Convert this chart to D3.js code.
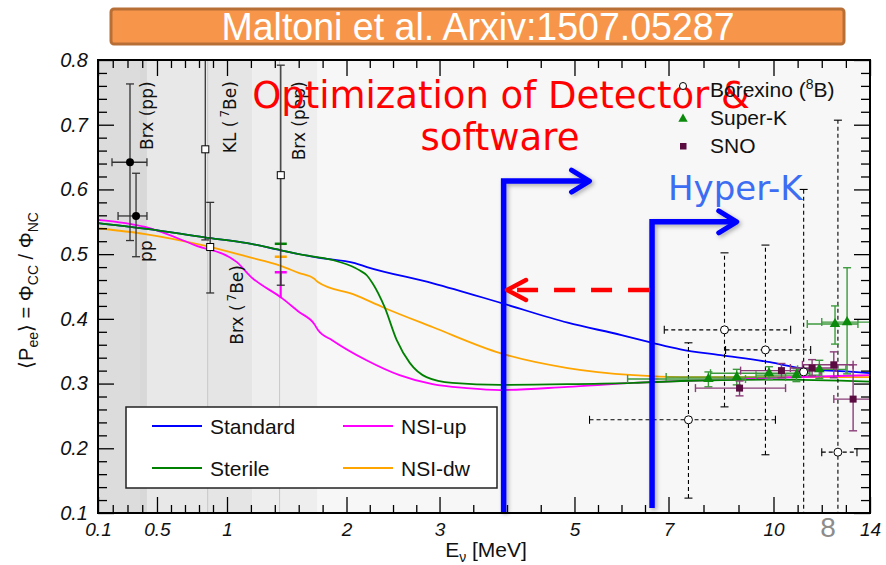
<!DOCTYPE html>
<html><head><meta charset="utf-8">
<script src="https://cdn.jsdelivr.net/npm/d3@7"></script>
<style>body{margin:0;background:#fff}</style>
</head><body><svg id="c" width="886" height="565"></svg>
<script>
// ---------------- data ----------------
const xKnotE = [0.1, 0.5, 1, 2, 3, 5, 7, 10, 14];
const xTickLabels = ["0.1", "0.5", "1", "2", "3", "5", "7", "10", "14"];
const xMinorTicks = [0.2,0.3,0.4,0.6,0.7,0.8,0.9,1.2,1.4,1.6,1.8,2.25,2.5,2.75,3.5,4,4.5,5.5,6,6.5,8,9,11,12,13];
const yMajorTicks = [0.1,0.2,0.3,0.4,0.5,0.6,0.7,0.8];
const yMinorTicks = d3.range(0.12, 0.8, 0.02).filter(v => Math.abs(Math.round(v*10) - v*10) > 0.05);

const standardE = [0.1,0.43,0.84,1.17,1.45,1.75,2.09,2.22,2.93,3.93,4.9,6.0,6.66,7.34,8.49,9.9,11.1,13.3,14];
const standardP = [0.548,0.539,0.526,0.517,0.506,0.495,0.486,0.480,0.455,0.424,0.394,0.375,0.363,0.353,0.344,0.333,0.324,0.318,0.316];
const sterileE = [0.1,0.43,0.84,1.17,1.45,1.6,1.88,2.09,2.14,2.22,2.28,2.41,2.54,2.68,2.86,3.19,3.9,4.9,6.26,7.34,10,14];
const sterileP = [0.548,0.539,0.526,0.517,0.506,0.500,0.491,0.479,0.475,0.467,0.455,0.418,0.367,0.332,0.310,0.301,0.298,0.299,0.301,0.304,0.306,0.303];
const nsiUpE = [0.1,0.42,0.77,1.08,1.2,1.46,1.6,1.73,1.76,1.88,2.215,2.57,2.925,3.4,3.9,4.9,6.26,7.34,10,14];
const nsiUpP = [0.553,0.542,0.514,0.488,0.465,0.432,0.411,0.392,0.383,0.367,0.336,0.313,0.299,0.293,0.290,0.295,0.301,0.304,0.309,0.313];
const nsiDwE = [0.1,0.42,0.84,1.17,1.45,1.6,1.73,1.76,2.09,2.39,2.93,3.9,4.9,6.26,7.34,10,14];
const nsiDwP = [0.540,0.531,0.513,0.496,0.482,0.471,0.462,0.457,0.437,0.418,0.387,0.347,0.324,0.313,0.310,0.310,0.310];

// low-energy measurements: [E, P, Elo, Ehi, Plo, Phi]
const ppPoints = [[0.317,0.642,0.195,0.432,0.521,0.763],[0.358,0.559,0.236,0.432,0.496,0.625]];
const openSquarePoints = [[0.845,0.662,null,null,0.522,0.90],[0.88,0.511,null,null,0.440,0.580],[1.45,0.622,null,null,0.452,0.792]];
// pep-line model predictions
const pepPredP = [0.516, 0.496, 0.472];
const pepPredE = 1.45;

// Borexino 8B, Super-K, SNO: [E, P, Elo, Ehi, Plo, Phi]
const borexino8B = [[7.57,0.244,5.32,10.08,0.123,0.363],[8.6,0.383,6.91,10.71,0.264,0.502],[9.77,0.352,8.63,11.54,0.190,0.514],[11.25,0.318,11.0,11.5,0.02,0.60],[12.67,0.194,12.0,13.46,0.02,0.707]];
const superK = [[8.14,0.307,6.13,9.2,0.295,0.318],[8.95,0.310,6.95,10.5,0.298,0.322],[9.87,0.316,8.2,11.5,0.306,0.326],[10.95,0.313,9.5,12.0,0.303,0.323],[11.9,0.322,11.0,13.0,0.308,0.336],[12.55,0.392,11.4,13.5,0.361,0.420],[13.05,0.395,12.0,14.2,0.315,0.479]];
const sno = [[9.03,0.293,7.77,10.5,0.281,0.304],[10.33,0.320,9.06,11.96,0.309,0.331],[11.6,0.324,10.7,12.6,0.312,0.337],[12.5,0.329,11.2,13.3,0.309,0.349],[13.3,0.276,12.5,14.2,0.227,0.329]];

// background energy bands
const bandE = [[0.1,0.385],[0.385,0.432],[0.432,0.864],[0.864,1.21],[1.21,1.758],[1.758,14]];
const bandColors = ["#dcdcdc","#d8d8d8","#e8e8e8","#e5e5e5","#eeeeee","#f7f7f7"];
const lineE = [0.862, 1.44];

// ---------------- layout ----------------
const svg = d3.select('#c');
const L = 98, R = 870, T = 60, B = 513;
const xKnotFrac = [0, 0.0764, 0.1671, 0.3219, 0.4424, 0.6172, 0.7390, 0.8750, 1];
const x = d3.scaleLinear().domain(xKnotE).range(xKnotFrac.map(f => L + f*(R-L)));
const y = d3.scaleLinear().domain([0.1, 0.8]).range([B, T]);
const SANS = "'Liberation Sans', Arial, Helvetica, sans-serif";
const DJ = "'DejaVu Sans', sans-serif";

const defs = svg.append('defs');
defs.append('clipPath').attr('id','clip').append('rect')
  .attr('x',L).attr('y',T).attr('width',R-L).attr('height',B-T);
const flt = defs.append('filter').attr('id','sh').attr('x','-30%').attr('y','-10%').attr('width','160%').attr('height','120%');
flt.append('feDropShadow').attr('dx',2).attr('dy',2).attr('stdDeviation',2.2)
  .attr('flood-color','#000').attr('flood-opacity',0.3);

// title banner
svg.append('rect').attr('x',111).attr('y',9).attr('width',733).attr('height',35).attr('rx',3)
  .attr('fill','#f7964a').attr('stroke','#b86f36').attr('stroke-width',3);
svg.append('text').attr('x',478).attr('y',40).attr('text-anchor','middle')
  .attr('font-family',SANS).attr('font-size',38).attr('fill','#fff')
  .attr('textLength',513).attr('lengthAdjust','spacingAndGlyphs')
  .text('Maltoni et al.  Arxiv:1507.05287');

// plot background
const plot = svg.append('g').attr('clip-path','url(#clip)');
plot.selectAll('rect.band').data(bandE).join('rect').attr('class','band')
  .attr('x',d=>x(d[0])).attr('width',d=>x(d[1])-x(d[0])).attr('y',T).attr('height',B-T)
  .attr('fill',(d,i)=>bandColors[i]);
plot.selectAll('line.vl').data(lineE).join('line').attr('class','vl')
  .attr('x1',d=>x(d)).attr('x2',d=>x(d)).attr('y1',T).attr('y2',B)
  .attr('stroke','#c8c8c8').attr('stroke-width',1);

// curves
const curves = [
  {E:nsiDwE, P:nsiDwP, color:'#ffa500'},
  {E:nsiUpE, P:nsiUpP, color:'#ff00ff'},
  {E:standardE, P:standardP, color:'#0000ff'},
  {E:sterileE, P:sterileP, color:'#008000'}
];
const line = d3.line().x(d=>x(d[0])).y(d=>y(d[1])).curve(d3.curveMonotoneX);
curves.forEach(c => {
  plot.append('path').attr('d', line(c.E.map((e,i)=>[e,c.P[i]])))
    .attr('fill','none').attr('stroke',c.color).attr('stroke-width',1.8);
});

// pep predictions
const pepColors = ['#008000','#ffa500','#ff00ff'];
plot.append('line').attr('x1',x(pepPredE)).attr('x2',x(pepPredE))
  .attr('y1',y(pepPredP[2])).attr('y2',y(nsiUpP[5])).attr('stroke','#ff00ff').attr('stroke-width',2);
plot.selectAll('line.pep').data(pepPredP).join('line').attr('class','pep')
  .attr('x1',x(pepPredE)-6).attr('x2',x(pepPredE)+6).attr('y1',d=>y(d)).attr('y2',d=>y(d))
  .attr('stroke',(d,i)=>pepColors[i]).attr('stroke-width',2.5);

// error bar helper
function errBars(g, data, color, width, dash, cap) {
  data.forEach(d => {
    const [E,P,Elo,Ehi,Plo,Phi] = d;
    const cx = x(E), cy = y(P);
    g.append('line').attr('x1',cx).attr('x2',cx).attr('y1',y(Plo)).attr('y2',y(Phi))
      .attr('stroke',color).attr('stroke-width',width).attr('stroke-dasharray',dash);
    [Plo,Phi].forEach(p => g.append('line').attr('x1',cx-cap).attr('x2',cx+cap).attr('y1',y(p)).attr('y2',y(p))
      .attr('stroke',color).attr('stroke-width',width));
    if (Elo !== null) {
      g.append('line').attr('x1',x(Elo)).attr('x2',x(Ehi)).attr('y1',cy).attr('y2',cy)
        .attr('stroke',color).attr('stroke-width',width).attr('stroke-dasharray',dash);
      [Elo,Ehi].forEach(e => g.append('line').attr('x1',x(e)).attr('x2',x(e)).attr('y1',cy-cap).attr('y2',cy+cap)
        .attr('stroke',color).attr('stroke-width',width));
    }
  });
}

// low energy points
errBars(plot, ppPoints, '#333', 1.3, null, 4);
errBars(plot, openSquarePoints, '#333', 1.3, null, 4);
plot.selectAll('circle.pp').data(ppPoints).join('circle').attr('class','pp')
  .attr('cx',d=>x(d[0])).attr('cy',d=>y(d[1])).attr('r',4).attr('fill','#000');
plot.selectAll('rect.os').data(openSquarePoints).join('rect').attr('class','os')
  .attr('x',d=>x(d[0])-3.5).attr('y',d=>y(d[1])-3.5).attr('width',7).attr('height',7)
  .attr('fill','#fff').attr('stroke','#000').attr('stroke-width',1);

// high-energy points
errBars(plot, borexino8B, '#000', 1.1, '4,3', 4);
errBars(plot, superK, '#3c9a3c', 1.4, null, 4);
errBars(plot, sno, '#8a3d78', 1.4, null, 4);
plot.selectAll('circle.bx').data(borexino8B).join('circle').attr('class','bx')
  .attr('cx',d=>x(d[0])).attr('cy',d=>y(d[1])).attr('r',4)
  .attr('fill','#fff').attr('stroke','#000').attr('stroke-width',1);
const tri = d3.symbol().type(d3.symbolTriangle).size(48);
plot.selectAll('path.sk').data(superK).join('path').attr('class','sk')
  .attr('transform',d=>`translate(${x(d[0])},${y(d[1])})`).attr('d',tri()).attr('fill','#0b8a0b');
plot.selectAll('rect.sno').data(sno).join('rect').attr('class','sno')
  .attr('x',d=>x(d[0])-3.5).attr('y',d=>y(d[1])-3.5).attr('width',7).attr('height',7).attr('fill','#5a0b40');

// rotated labels for low energy data (anchored in data units)
const rotLabels = [
  {E:0.473, P:0.661, parts:[['Brx (pp)',0]]},
  {E:0.466, P:0.488, parts:[['pp',0]]},
  {E:1.075, P:0.656, parts:[['KL (',0],['7',1],['Be)',2]]},
  {E:1.134, P:0.360, parts:[['Brx (',0],['7',1],['Be)',2]]},
  {E:1.653, P:0.645, parts:[['Brx (pep)',0]]}
];
rotLabels.forEach(l => {
  const t = svg.append('text').attr('transform',`translate(${x(l.E)},${y(l.P)}) rotate(-90)`)
    .attr('font-family',DJ).attr('font-size',17).attr('fill','#111');
  l.parts.forEach(p => {
    const s = t.append('tspan').text(p[0]);
    if (p[1]===1) s.attr('dy',-7).attr('font-size',12).attr('dx',3);
    if (p[1]===2) s.attr('dy',7);
  });
});

// legend (curves)
svg.append('rect').attr('x',126).attr('y',407).attr('width',371).attr('height',81)
  .attr('fill','#fff').attr('stroke','#222').attr('stroke-width',1.5);
const legendItems = [['Standard','#0000ff',0,0],['NSI-up','#ff00ff',1,0],['Sterile','#008000',0,1],['NSI-dw','#ffa500',1,1]];
legendItems.forEach(([name,col,cx,ry]) => {
  const lx = 152 + cx*191, ly = 426 + ry*42;
  svg.append('line').attr('x1',lx).attr('x2',lx+50).attr('y1',ly).attr('y2',ly).attr('stroke',col).attr('stroke-width',2);
  svg.append('text').attr('x',lx+58).attr('y',ly+8).attr('font-family',SANS).attr('font-size',21).attr('fill','#111').text(name);
});

// annotations (blue arrows)
const arrowG = svg.append('g').attr('filter','url(#sh)');
function stepArrow(E0, Ptop, E1, bottomGap) {
  const x0 = x(E0), yt = y(Ptop), x1 = x(E1);
  arrowG.append('path').attr('d',`M${x0},${B-bottomGap}V${yt}H${x1-2}`)
    .attr('fill','none').attr('stroke','#0000ff').attr('stroke-width',5.5);
  arrowG.append('path').attr('d',`M${x1-18},${yt-11}L${x1},${yt}L${x1-18},${yt+11}`)
    .attr('fill','none').attr('stroke','#0000ff').attr('stroke-width',5).attr('stroke-linecap','round').attr('stroke-linejoin','round');
}
stepArrow(3.95, 0.613, 5.32, 1);
stepArrow(6.65, 0.55, 8.95, 5);

// red dashed arrow
const ry = y(0.4446);
svg.append('line').attr('x1',x(6.65)-3).attr('x2',x(4.0)+6).attr('y1',ry).attr('y2',ry)
  .attr('stroke','#ff0000').attr('stroke-width',4.5).attr('stroke-dasharray','21,16');
svg.append('path').attr('d',`M${x(4.0)+19},${ry-10}L${x(4.0)},${ry}L${x(4.0)+19},${ry+10}`)
  .attr('fill','none').attr('stroke','#ff0000').attr('stroke-width',4.5).attr('stroke-linecap','round').attr('stroke-linejoin','round');

// red text
svg.append('text').attr('x',501).attr('y',108).attr('text-anchor','middle')
  .attr('font-family',DJ).attr('font-size',37).attr('fill','#ff0000').text('Optimization of Detector &');
svg.append('text').attr('x',500).attr('y',150).attr('text-anchor','middle')
  .attr('font-family',DJ).attr('font-size',37).attr('fill','#ff0000').text('software');
svg.append('text').attr('x',668).attr('y',200)
  .attr('font-family',DJ).attr('font-size',34).attr('fill','#3d6df2').text('Hyper-K');

// top-right legend
svg.append('circle').attr('cx',683).attr('cy',86).attr('r',3.5).attr('fill','#fff').attr('stroke','#000').attr('stroke-width',1);
svg.append('path').attr('transform','translate(683,119)').attr('d',d3.symbol().type(d3.symbolTriangle).size(38)()).attr('fill','#0b8a0b');
svg.append('rect').attr('x',680).attr('y',143).attr('width',6.5).attr('height',6.5).attr('fill','#5a0b40');
const bt = svg.append('text').attr('x',710).attr('y',97).attr('font-family',SANS).attr('font-size',21).attr('fill','#111');
bt.append('tspan').text('Borexino (');
bt.append('tspan').attr('dy',-8).attr('font-size',14).text('8');
bt.append('tspan').attr('dy',8).text('B)');
svg.append('text').attr('x',710).attr('y',125).attr('font-family',SANS).attr('font-size',21).attr('fill','#111').text('Super-K');
svg.append('text').attr('x',710).attr('y',153).attr('font-family',SANS).attr('font-size',21).attr('fill','#111').text('SNO');

// axes
function styleAxis(g) { g.select('.domain').remove(); g.selectAll('line').attr('stroke','#000').attr('stroke-width',1.3); }
const gb = svg.append('g').attr('transform',`translate(0,${B})`)
  .call(d3.axisBottom(x).tickValues(xKnotE).tickSize(-16).tickPadding(10).tickFormat((d,i)=>xTickLabels[i]));
styleAxis(gb);
gb.selectAll('text').attr('font-family',SANS).attr('font-style','italic').attr('font-size',19).attr('fill','#111');
styleAxis(svg.append('g').attr('transform',`translate(0,${B})`).call(d3.axisBottom(x).tickValues(xMinorTicks).tickSize(-8).tickFormat('')));
styleAxis(svg.append('g').attr('transform',`translate(0,${T})`).call(d3.axisTop(x).tickValues(xKnotE).tickSize(-16).tickFormat('')));
styleAxis(svg.append('g').attr('transform',`translate(0,${T})`).call(d3.axisTop(x).tickValues(xMinorTicks).tickSize(-8).tickFormat('')));
const gl = svg.append('g').attr('transform',`translate(${L},0)`)
  .call(d3.axisLeft(y).tickValues(yMajorTicks).tickSize(-16).tickPadding(10).tickFormat(d3.format('.1f')));
styleAxis(gl);
gl.selectAll('text').attr('font-family',SANS).attr('font-style','italic').attr('font-size',20).attr('fill','#111');
styleAxis(svg.append('g').attr('transform',`translate(${L},0)`).call(d3.axisLeft(y).tickValues(yMinorTicks).tickSize(-9).tickFormat('')));
styleAxis(svg.append('g').attr('transform',`translate(${R},0)`).call(d3.axisRight(y).tickValues(yMajorTicks).tickSize(-16).tickFormat('')));
styleAxis(svg.append('g').attr('transform',`translate(${R},0)`).call(d3.axisRight(y).tickValues(yMinorTicks).tickSize(-9).tickFormat('')));

svg.append('rect').attr('x',L).attr('y',T).attr('width',R-L).attr('height',B-T)
  .attr('fill','none').attr('stroke','#000').attr('stroke-width',2);

// axis titles
const xt = svg.append('text').attr('x',486).attr('y',557).attr('text-anchor','middle')
  .attr('font-family',SANS).attr('font-size',21).attr('fill','#111');
xt.append('tspan').text('E');
xt.append('tspan').attr('dy',5).attr('font-size',14).text('ν');
xt.append('tspan').attr('dy',-5).text(' [MeV]');

const yt = svg.append('text').attr('transform',`translate(33,${(T+B)/2+4}) rotate(-90)`).attr('text-anchor','middle')
  .attr('font-family',SANS).attr('font-size',20).attr('fill','#111');
yt.append('tspan').text('⟨P');
yt.append('tspan').attr('dy',5).attr('font-size',14).text('ee');
yt.append('tspan').attr('dy',-5).text('⟩ = Φ');
yt.append('tspan').attr('dy',5).attr('font-size',14).text('CC');
yt.append('tspan').attr('dy',-5).text(' / Φ');
yt.append('tspan').attr('dy',5).attr('font-size',14).text('NC');

// slide number
svg.append('text').attr('x',828).attr('y',537).attr('text-anchor','middle')
  .attr('font-family',SANS).attr('font-size',28).attr('fill','#8c8c8c').text('8');
</script></body></html>
